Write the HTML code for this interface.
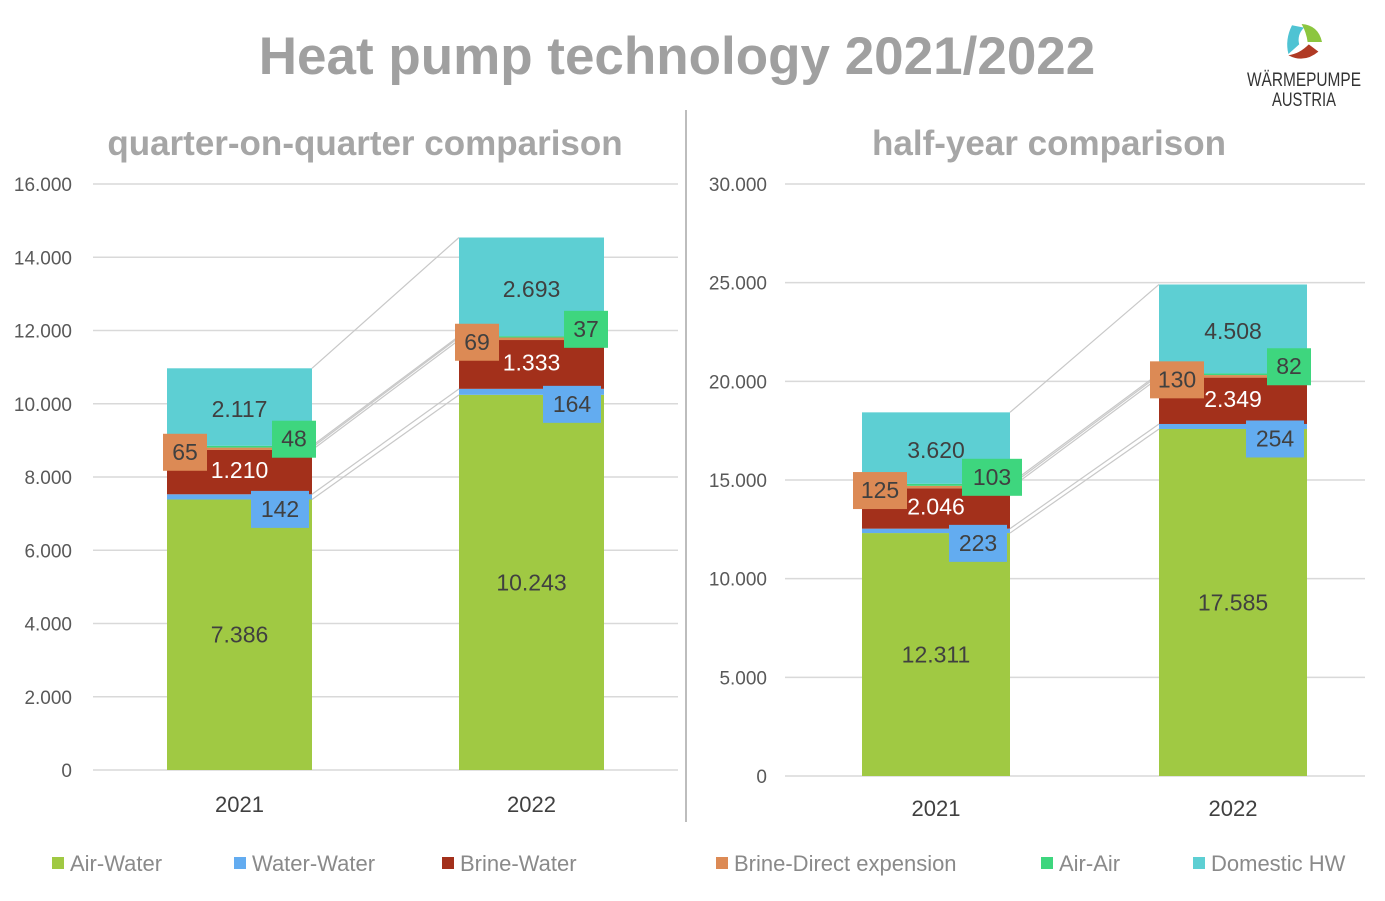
<!DOCTYPE html>
<html><head><meta charset="utf-8"><style>
html,body{margin:0;padding:0;background:#fff;}
body{width:1385px;height:896px;overflow:hidden;font-family:"Liberation Sans",sans-serif;}
</style></head><body>
<svg id="svg" width="1385" height="896" viewBox="0 0 1385 896" xmlns="http://www.w3.org/2000/svg">
<text x="677" y="74" text-anchor="middle" font-size="53" font-weight="bold" fill="#a0a0a0">Heat pump technology 2021/2022</text>
<text x="365" y="155" text-anchor="middle" font-size="35" font-weight="bold" fill="#a6a6a6">quarter-on-quarter comparison</text>
<text x="1049" y="155" text-anchor="middle" font-size="35" font-weight="bold" fill="#a6a6a6">half-year comparison</text>
<line x1="686" y1="110" x2="686" y2="822" stroke="#bdbdbd" stroke-width="2"/>
<g>
<g transform="translate(1304,42) scale(1.2) translate(-1306,-42)">
<path d="M1296 28 Q1290 40 1293 52 L1302 44 Q1300 36 1306 30 Z" fill="#4fc3d3"/>
<path d="M1304 27 Q1318 28 1321 42 L1309 42 Q1308 34 1304 27 Z" fill="#8cc63f"/>
<path d="M1293 53 Q1306 60 1318 50 L1310 44 Q1302 52 1293 53 Z" fill="#b03a24"/>
</g>
<text x="1304" y="86" text-anchor="middle" font-size="19" fill="#333" textLength="114" lengthAdjust="spacingAndGlyphs">WÄRMEPUMPE</text>
<text x="1304" y="106" text-anchor="middle" font-size="19" fill="#333" textLength="64" lengthAdjust="spacingAndGlyphs">AUSTRIA</text>
</g>
<g id="left"></g><g id="right"></g><g id="legend"></g>
</svg>
<script>
const series = ["Air-Water","Water-Water","Brine-Water","Brine-Direct expension","Air-Air","Domestic HW"];
const colors = ["#a0c943","#63acf0","#a3301b","#dc8a55","#3ed67e","#5dcfd3"];
const categories = ["2021","2022"];
const quarterValues = [[7386,142,1210,65,48,2117],[10243,164,1333,69,37,2693]];
const quarterLabels = [["7.386","142","1.210","65","48","2.117"],["10.243","164","1.333","69","37","2.693"]];
const quarterTicks = [0,2000,4000,6000,8000,10000,12000,14000,16000];
const quarterTickLabels = ["0","2.000","4.000","6.000","8.000","10.000","12.000","14.000","16.000"];
const halfValues = [[12311,223,2046,125,103,3620],[17585,254,2349,130,82,4508]];
const halfLabels = [["12.311","223","2.046","125","103","3.620"],["17.585","254","2.349","130","82","4.508"]];
const halfTicks = [0,5000,10000,15000,20000,25000,30000];
const halfTickLabels = ["0","5.000","10.000","15.000","20.000","25.000","30.000"];

const NS="http://www.w3.org/2000/svg";
function mk(tag,attrs,parent){const e=document.createElementNS(NS,tag);for(const k in attrs)e.setAttribute(k,attrs[k]);parent.appendChild(e);return e;}

function drawChart(g,cfg,values,labels,ticks,tickLabels){
  const y=v=>cfg.y0-(v/cfg.max)*(cfg.y0-cfg.yTop);
  ticks.forEach((t,i)=>{
    const l=mk("line",{x1:cfg.gx1,x2:cfg.gx2,y1:y(t),y2:y(t),stroke:"#d9d9d9","stroke-width":1.5},g);
    
    
    const tx=mk("text",{x:cfg.tickX,y:y(t)+7,"text-anchor":"end","font-size":19,fill:"#595959"},g);
    tx.textContent=tickLabels[i];
    
    
  });
  const tops=[];
  categories.forEach((c,ci)=>{
    const bx=cfg.bx[ci],bw=cfg.bw;let cum=0;const edges=[];
    values[ci].forEach((v,si)=>{
      const r=mk("rect",{x:bx,y:y(cum+v),width:bw,height:y(cum)-y(cum+v),fill:colors[si]},g);
      
      
      cum+=v;edges.push(y(cum));
    });
    tops.push(edges);
    const cl=mk("text",{x:bx+bw/2,y:cfg.catY,"text-anchor":"middle","font-size":22,fill:"#404040"},g);
    cl.textContent=c;
    
    
  });
  [0,1,2,3,4,5].forEach(si=>{
    const l=mk("line",{x1:cfg.bx[0]+cfg.bw,y1:tops[0][si],x2:cfg.bx[1],y2:tops[1][si],stroke:"#c8c8c8","stroke-width":1.2},g);
    
    
  });
  categories.forEach((c,ci)=>{
    const bx=cfg.bx[ci],bw=cfg.bw;const vals=values[ci];let cum=[0];vals.forEach(v=>cum.push(cum[cum.length-1]+v));
    const mid=si=>(y(cum[si])+y(cum[si+1]))/2;
    const plain=(si,col,dy)=>{const t=mk("text",{x:bx+bw/2,y:mid(si)+8+(dy||0),"text-anchor":"middle","font-size":23,fill:col},g);t.textContent=labels[ci][si];
      
      };
    plain(0,"#404040");plain(2,"#ffffff",-2);plain(5,"#404040",2);
    const box=(si,cx,cy,w)=>{const r=mk("rect",{x:cx-w/2,y:cy-18,width:w,height:37,fill:colors[si]},g);
      
      
      const t=mk("text",{x:cx,y:cy+8,"text-anchor":"middle","font-size":23,fill:"#404040"},g);t.textContent=labels[ci][si];
      
      };
    box(1,bx+bw-32,mid(1)+12,58);
    box(3,bx+18,mid(3)+3,labels[ci][3].length>2?54:44);
    box(4,bx+bw-18,mid(4)-8,labels[ci][4].length>2?60:44);
  });
}
drawChart(document.getElementById("left"),{y0:770,yTop:184,max:16000,gx1:93,gx2:678,tickX:72,bx:[167,459],bw:145,catY:812},quarterValues,quarterLabels,quarterTicks,quarterTickLabels);
drawChart(document.getElementById("right"),{y0:776,yTop:184,max:30000,gx1:785,gx2:1365,tickX:767,bx:[862,1159],bw:148,catY:816},halfValues,halfLabels,halfTicks,halfTickLabels);
const lg=document.getElementById("legend");
const lx=[52,234,442,716,1041,1193];
series.forEach((s,i)=>{
  const r=mk("rect",{x:lx[i],y:857,width:12,height:12,fill:colors[i]},lg);
  
  
  const t=mk("text",{x:lx[i]+18,y:871,"font-size":22,fill:"#8a8a8a"},lg);t.textContent=s;
  
  
});
</script>
</body></html>
